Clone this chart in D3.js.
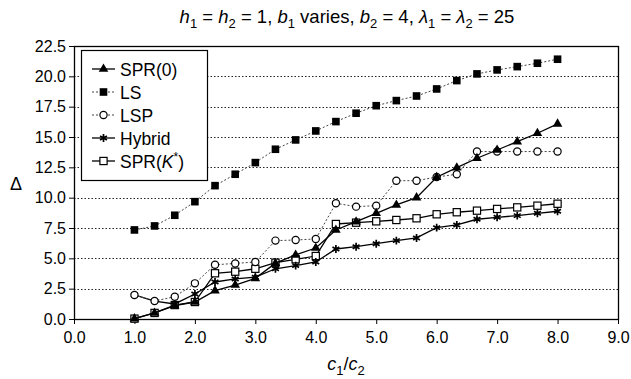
<!DOCTYPE html>
<html>
<head>
<meta charset="utf-8">
<script src="https://cdn.jsdelivr.net/npm/d3@7"></script>
<style>
  body { margin: 0; background: #fff; }
  text { font-family: "Liberation Sans", Arial, sans-serif; fill: #000; }
</style>
</head>
<body>
<svg id="chart" width="631" height="379"></svg>
<script>
// c1/c2 ratios
var ratios = [1.0, 1.333, 1.667, 2.0, 2.333, 2.667, 3.0, 3.333, 3.667, 4.0, 4.333, 4.667,
  5.0, 5.333, 5.667, 6.0, 6.333, 6.667, 7.0, 7.333, 7.667, 8.0];

var spr0 = [0.03, 0.5, 1.1, 1.4, 2.34, 2.8, 3.35, 4.6, 5.28, 5.85, 7.34, 8.02,
  8.71, 9.4, 10.0, 11.68, 12.47, 13.25, 13.93, 14.62, 15.31, 16.08];
var ls = [7.34, 7.67, 8.55, 9.67, 10.99, 11.93, 12.89, 13.99, 14.76, 15.5, 16.27, 16.96,
  17.58, 18.0, 18.38, 18.96, 19.65, 20.2, 20.53, 20.8, 21.08, 21.41];
var lsp = [1.98, 1.48, 1.84, 2.94, 4.47, 4.58, 4.7, 6.46, 6.51, 6.6, 9.54, 9.26,
  9.34, 11.4, 11.4, 11.7, 11.93, 13.8, 13.8, 13.8, 13.8, 13.8];
var hybrid = [1.98, 1.48, 1.24, 2.06, 3.05, 3.3, 3.45, 4.14, 4.4, 4.7, 5.77, 5.96,
  6.21, 6.46, 6.68, 7.53, 7.75, 8.22, 8.38, 8.52, 8.71, 8.88];
var sprK = [0.03, 0.5, 1.15, 1.4, 3.77, 3.9, 4.14, 4.64, 4.92, 5.19, 7.83, 7.94,
  8.05, 8.16, 8.3, 8.63, 8.8, 8.93, 9.07, 9.2, 9.34, 9.5];

var xTicks = [0, 1, 2, 3, 4, 5, 6, 7, 8, 9];
var yTicks = [0, 2.5, 5, 7.5, 10, 12.5, 15, 17.5, 20, 22.5];

var series = [
  { name: 'SPR(0)', values: spr0, marker: 'triangle', dotted: false },
  { name: 'LS', values: ls, marker: 'square', dotted: true },
  { name: 'LSP', values: lsp, marker: 'circle', dotted: true },
  { name: 'Hybrid', values: hybrid, marker: 'star', dotted: false },
  { name: 'SPR(K*)', values: sprK, marker: 'opensquare', dotted: false }
];

var margin = { top: 46, left: 74, right: 13, bottom: 60 };
var width = 631, height = 379;
var gWidth = width - margin.left - margin.right;
var gHeight = height - margin.top - margin.bottom;

var svg = d3.select('#chart');
var g = svg.append('g')
  .attr('transform', 'translate(' + margin.left + ',' + margin.top + ')');

var x = d3.scaleLinear().domain([0, 9]).range([0, gWidth]);
var y = d3.scaleLinear().domain([0, 22.5]).range([gHeight, 0]);

// grid
g.selectAll('.grid').data(yTicks.filter(function(d) { return d > 0 && d < 22.5; }))
  .enter().append('line')
  .attr('x1', 0).attr('x2', gWidth)
  .attr('y1', function(d) { return Math.round(y(d)) + 0.5; })
  .attr('y2', function(d) { return Math.round(y(d)) + 0.5; })
  .attr('stroke', '#222').attr('stroke-width', 1).attr('stroke-dasharray', '1.5,2');

// frame
g.append('rect').attr('x', 0.5).attr('y', 0.5).attr('width', gWidth).attr('height', gHeight)
  .attr('fill', 'none').attr('stroke', '#000').attr('stroke-width', 1.3);

var xAxis = g.append('g').attr('transform', 'translate(0,' + gHeight + ')')
  .call(d3.axisBottom(x).tickValues(xTicks).tickSize(5).tickFormat(d3.format('.1f')));
var yAxis = g.append('g')
  .call(d3.axisLeft(y).tickValues(yTicks).tickSize(5).tickPadding(3).tickFormat(d3.format('.1f')));
[xAxis, yAxis].forEach(function(a) {
  a.select('.domain').remove();
  a.selectAll('text').attr('font-size', '16px').attr('font-family', '"Liberation Sans", Arial, sans-serif');
  a.selectAll('line').attr('stroke', '#000');
});
xAxis.selectAll('text').attr('dy', '1.0em');

var line = d3.line()
  .x(function(d, i) { return x(ratios[i]); })
  .y(function(d) { return y(d); });

function drawMarker(sel, type, cx, cy) {
  if (type === 'square') {
    sel.append('rect').attr('x', cx - 3.8).attr('y', cy - 3.8).attr('width', 7.6).attr('height', 7.6)
      .attr('fill', '#000');
  } else if (type === 'opensquare') {
    sel.append('rect').attr('x', cx - 3.6).attr('y', cy - 3.6).attr('width', 7.2).attr('height', 7.2)
      .attr('fill', '#fff').attr('stroke', '#000').attr('stroke-width', 1.2);
  } else if (type === 'circle') {
    sel.append('circle').attr('cx', cx).attr('cy', cy).attr('r', 3.6)
      .attr('fill', '#fff').attr('stroke', '#000').attr('stroke-width', 1.2);
  } else if (type === 'triangle') {
    sel.append('path').attr('d', d3.symbol().type(d3.symbolTriangle).size(40)())
      .attr('transform', 'translate(' + cx + ',' + cy + ')').attr('fill', '#000');
  } else if (type === 'star') {
    sel.append('path').attr('d', d3.symbol().type(d3.symbolAsterisk).size(44)())
      .attr('transform', 'translate(' + cx + ',' + cy + ')')
      .attr('fill', 'none').attr('stroke', '#000').attr('stroke-width', 1.7);
  }
}

// draw in reverse so SPR(0) ends up on top
series.slice().reverse().forEach(function(s) {
  var sg = g.append('g');
  sg.append('path')
    .attr('d', line(s.values))
    .attr('fill', 'none')
    .attr('stroke', s.dotted ? '#444' : '#000')
    .attr('stroke-width', s.dotted ? 1 : 1.3)
    .attr('stroke-dasharray', s.dotted ? '2,2' : null);
  s.values.forEach(function(v, i) {
    drawMarker(sg, s.marker, x(ratios[i]), y(v));
  });
});

// legend
var legend = svg.append('g').attr('transform', 'translate(81,50)');
legend.append('rect').attr('x', 0.5).attr('y', 0.5).attr('width', 126).attr('height', 130)
  .attr('fill', '#fff').attr('stroke', '#000').attr('stroke-width', 1.2);
series.forEach(function(s, i) {
  var ly = 19 + i * 23;
  legend.append('line').attr('x1', 11).attr('x2', 34).attr('y1', ly).attr('y2', ly)
    .attr('stroke', s.dotted ? '#444' : '#000')
    .attr('stroke-width', s.dotted ? 1 : 1.3)
    .attr('stroke-dasharray', s.dotted ? '2,2' : null);
  drawMarker(legend, s.marker, 22.5, ly);
  var t = legend.append('text').attr('x', 39).attr('y', ly + 6.5).attr('font-size', '17.5px');
  if (s.name === 'SPR(K*)') {
    t.append('tspan').text('SPR(');
    t.append('tspan').attr('font-style', 'italic').text('K');
    t.append('tspan').attr('font-size', '12px').attr('dy', -7).text('*');
    t.append('tspan').attr('dy', 7).text(')');
  } else {
    t.text(s.name);
  }
});

// title
var title = svg.append('text').attr('x', 347).attr('y', 23)
  .attr('text-anchor', 'middle').attr('font-size', '18.5px');
var parts = [
  ['h', 'i'], ['1', 's'], [' = ', 'n'], ['h', 'i'], ['2', 's'], [' = 1, ', 'n'],
  ['b', 'i'], ['1', 's'], [' varies, ', 'n'], ['b', 'i'], ['2', 's'], [' = 4, ', 'n'],
  ['\u03bb', 'i'], ['1', 's'], [' = ', 'n'], ['\u03bb', 'i'], ['2', 's'], [' = 25', 'n']
];
var prevSub = false;
parts.forEach(function(p) {
  var ts = title.append('tspan').text(p[0]);
  if (p[1] === 'i') ts.attr('font-style', 'italic');
  if (p[1] === 's') {
    ts.attr('font-size', '13px').attr('dy', 5);
    prevSub = true;
  } else if (prevSub) {
    ts.attr('dy', -5);
    prevSub = false;
  }
});

// axis titles
var xl = svg.append('text').attr('x', margin.left + gWidth / 2).attr('y', 370)
  .attr('text-anchor', 'middle').attr('font-size', '18px');
xl.append('tspan').attr('font-style', 'italic').text('c');
xl.append('tspan').attr('font-size', '13px').attr('dy', 5).text('1');
xl.append('tspan').attr('dy', -5).text('/');
xl.append('tspan').attr('font-style', 'italic').text('c');
xl.append('tspan').attr('font-size', '13px').attr('dy', 5).text('2');

svg.append('text').attr('x', 16).attr('y', 190).attr('text-anchor', 'middle')
  .attr('font-size', '18px').text('\u0394');
</script>
</body>
</html>
